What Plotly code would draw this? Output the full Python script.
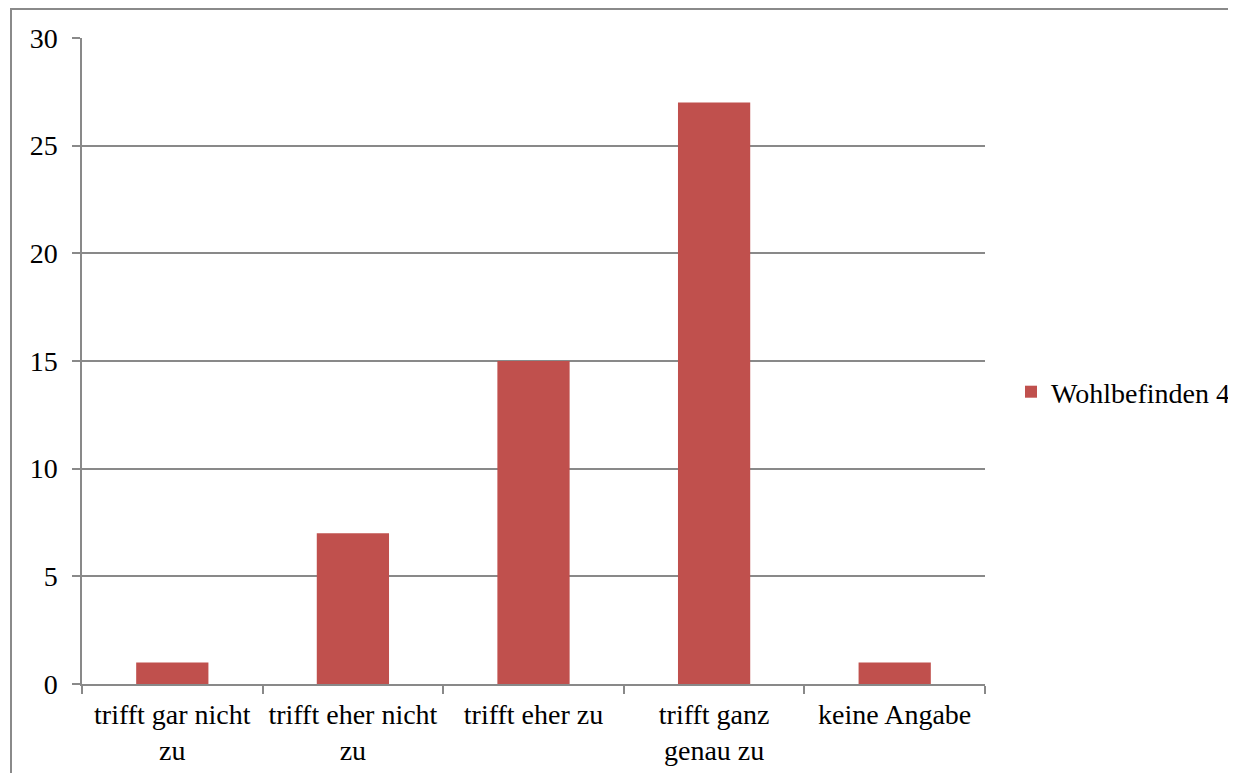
import plotly.graph_objects as go

categories = ["trifft gar nicht<br>zu", "trifft eher nicht<br>zu", "trifft eher zu", "trifft ganz<br>genau zu", "keine Angabe"]
values = [1, 7, 15, 27, 1]
series_name = "Wohlbefinden 4"
y_ticks = [0, 5, 10, 15, 20, 25, 30]

FONT = "Liberation Serif"
FS = 28
OFF = 8  # default page body margin
W, H = 1260, 773 - OFF
# plot area in page pixels: x 82..985, y 38..684
L, T = 82 - OFF, 38 - OFF
R, B = W - (985 - OFF), H - (684 - OFF)
pw, ph = W - L - R, H - T - B

def px_x(x):  # page pixel -> paper
    return (x - OFF - L) / pw

def px_y(y):
    return (H - B - (y - OFF)) / ph

fig = go.Figure()
fig.add_trace(go.Bar(
    x=categories, y=values, name=series_name,
    marker=dict(color="#C0504D", line=dict(width=0)),
    showlegend=True,
))

fig.update_layout(
    width=W, height=H,
    margin=dict(l=L, r=R, t=T, b=B, pad=0, autoexpand=False),
    plot_bgcolor="white", paper_bgcolor="white",
    bargap=0.6,
    font=dict(family=FONT, size=FS, color="#000000"),
    showlegend=True,
    legend=dict(x=px_x(1011), y=px_y(392), xanchor="left", yanchor="middle",
                font=dict(family=FONT, size=FS, color="#000000"),
                itemwidth=30, bgcolor="rgba(0,0,0,0)"),
    xaxis=dict(
        showline=True, linecolor="#898989", linewidth=2,
        ticks="outside", ticklen=8, tickwidth=1.5, tickcolor="#898989",
        tickson="boundaries", showgrid=False, ticklabelstandoff=4,
        automargin=False,
        tickfont=dict(family=FONT, size=FS, color="#000000"),
    ),
    yaxis=dict(
        range=[0, 30], tickvals=y_ticks, ticktext=[str(v) for v in y_ticks],
        showline=True, linecolor="#898989", linewidth=1.5,
        ticks="outside", ticklen=8, tickwidth=1.5, tickcolor="#898989",
        showgrid=True, gridcolor="#898989", gridwidth=1.5,
        zeroline=False, ticklabelstandoff=9, automargin=False,
        tickfont=dict(family=FONT, size=FS, color="#000000"),
    ),
    shapes=[dict(type="rect", xref="paper", yref="paper",
                 x0=px_x(11), x1=px_x(1250), y0=px_y(790), y1=px_y(9),
                 line=dict(color="#8a8a8a", width=2), fillcolor="rgba(0,0,0,0)",
                 layer="below")],
)

fig.write_html("out.html")
